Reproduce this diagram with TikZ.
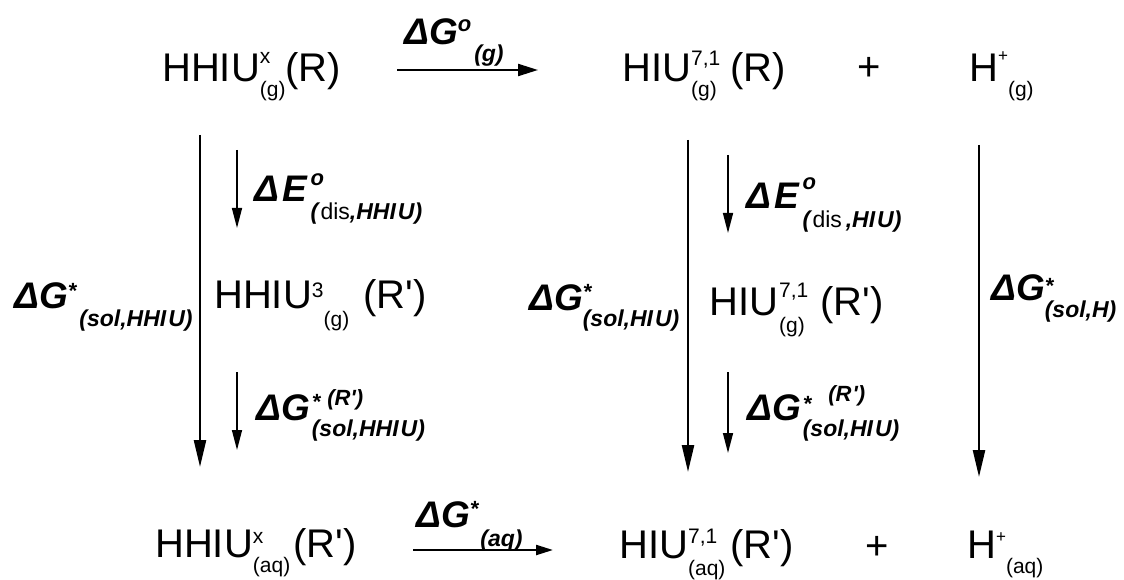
\documentclass[tikz,border=0pt]{standalone}
\usepackage{fontspec}
\setmainfont{Liberation Sans}
\usetikzlibrary{arrows.meta}
\newcommand\Mn{\fontsize{40}{44}\selectfont\mdseries\upshape}
\newcommand\Ms{\fontsize{21}{24}\selectfont\mdseries\upshape}
\newcommand\Mp{\fontsize{17}{18}\selectfont\mdseries\upshape}
\newcommand\Lb{\fontsize{37}{40}\selectfont\bfseries\itshape}
\newcommand\Ls{\fontsize{23}{26}\selectfont\bfseries\itshape}
\newcommand\Lo{\fontsize{22}{24}\selectfont\bfseries\itshape}
\newcommand\Rd{\textup{\mdseries dis}}
\newcommand\Qt{\textquotesingle}
\newcommand\SupSubStk[4]{{\setbox0=\hbox{#2}\setbox2=\hbox{#4}%
 \dimen0=\wd0 \ifdim\wd2>\dimen0 \dimen0=\wd2 \fi
 \hbox to\dimen0{\rlap{\raise#1\box0}\lower#3\box2\hfil}}}
\tikzset{
  txt/.style={inner sep=0pt, anchor=base west},
  plus/.style={inner sep=0pt, anchor=base},
  hor/.style={line width=2.2pt, -{Triangle[length=20pt,width=12pt]}},
  horb/.style={line width=2.2pt, -{Triangle[length=17pt,width=10pt]}},
  small/.style={line width=1.5pt, -{Triangle[length=20pt,width=10pt]}},
  longthin/.style={line width=1.3pt},
  longthick/.style={line width=2.4pt, -{Triangle[length=27pt,width=12pt]}},
}
\begin{document}
\begin{tikzpicture}[x=1pt,y=-1pt]
\useasboundingbox (0,0) rectangle (1124,580);
% species
\node[txt] (hhiuG) at (162,82) {\Mn HHIU\SupSubStk{18pt}{\Ms x}{14.5pt}{\Ms (g)}(R)};
\node[txt] (hiuG) at (622,82) {\Mn HIU\SupSubStk{16pt}{\Ms 7,1}{14.5pt}{\Ms (g)}\hspace{10pt}(R)};
\node[plus] (plusG) at (869,81) {\Mn +};
\node[txt] (hG) at (969,82) {\Mn H\raisebox{20pt}{\Mp +}\kern0pt\raisebox{-15pt}{\Ms (g)}};
\node[txt] (hhiu3) at (214,308) {\Mn HHIU\raisebox{11pt}{\Ms 3}\raisebox{-18.5pt}{\Ms (g)}\hspace{14pt}(R\Qt)};
\node[txt] (hiuM) at (709,315) {\Mn HIU\kern1pt\SupSubStk{18pt}{\Ms 7,1}{17pt}{\Ms (g)}\hspace{12pt}(R\Qt)};
\node[txt] (hhiuAq) at (155,557) {\Mn HHIU\SupSubStk{14pt}{\Ms x}{15pt}{\Ms (aq)}\kern3pt(R\Qt)};
\node[txt] (hiuAq) at (619,558) {\Mn HIU\SupSubStk{15pt}{\Ms 7,1}{17.5pt}{\Ms (aq)}\kern5pt(R\Qt)};
\node[plus] (plusAq) at (877,559) {\Mn +};
\node[txt] (hAq) at (967,558) {\Mn H\raisebox{16pt}{\Mp +}\kern0pt\raisebox{-15pt}{\Ms (aq)}};
% labels
\node[txt] (dG) at (404,45) {\Lb ΔG\raisebox{13pt}{\Lo o}\kern3pt\raisebox{-17pt}{\Ls (g)}};
\node[txt] (dEl) at (254,202) {\Lb Δ\kern3pt E\kern4pt\SupSubStk{17pt}{\Lo o}{17.5pt}{\Ls (\Rd,HHI\kern2pt U)}};
\node[txt] (dGsl) at (14,308) {\Lb ΔG\raisebox{10pt}{\Lo *}\kern3pt\raisebox{-18pt}{\Ls (sol,HHI\kern2pt U)}};
\node[txt] (dGrl) at (256,420) {\Lb ΔG\kern2pt\SupSubStk{11pt}{\Lo *\kern7pt\raisebox{4pt}{(R\Qt)}}{16pt}{\Ls (sol,HHI\kern2pt U)}};
\node[txt] (dEr) at (746,208) {\Lb Δ\kern3pt E\kern4pt\SupSubStk{19pt}{\Lo o}{20pt}{\Ls (\Rd\,,HI\kern2pt U)}};
\node[txt] (dGsm) at (529,310) {\Lb ΔG\SupSubStk{11pt}{\Lo *}{16pt}{\Ls (sol,HI\kern2pt U)}};
\node[txt] (dGrm) at (747,420) {\Lb ΔG\kern2pt\SupSubStk{9pt}{\Lo *\kern17pt\raisebox{10pt}{(R\kern1pt\Qt)}}{16pt}{\Ls (sol,HI\kern2pt U)}};
\node[txt] (dGsh) at (991,300) {\Lb ΔG\SupSubStk{7pt}{\Lo *}{17.5pt}{\Ls (sol,H)}};
\node[txt] (dGaq) at (416,527) {\Lb ΔG\raisebox{11pt}{\Lo *}\kern2pt\raisebox{-19pt}{\Ls (aq)}};
% arrow end points
\coordinate (t1) at (397,70); \coordinate (t2) at (538,70);
\coordinate (b1) at (413,550); \coordinate (b2) at (553,550);
\coordinate (l1) at (200,135); \coordinate (lm) at (200,292); \coordinate (l2) at (200,467);
\coordinate (ls1) at (237,150); \coordinate (ls2) at (237,228);
\coordinate (ls3) at (237,372); \coordinate (ls4) at (237,450);
\coordinate (m1) at (688,140); \coordinate (mm) at (688,297); \coordinate (m2) at (688,472);
\coordinate (ms1) at (728,155); \coordinate (ms2) at (728,233);
\coordinate (ms3) at (728,372); \coordinate (ms4) at (728,453);
\coordinate (r1) at (979,145); \coordinate (rm) at (979,302); \coordinate (r2) at (979,477);
% arrows
\draw[hor] (t1) -- (t2);
\draw[horb] (b1) -- (b2);
\draw[longthin] (l1) -- (lm); \draw[longthick] (lm) -- (l2);
\draw[small] (ls1) -- (ls2);
\draw[small] (ls3) -- (ls4);
\draw[longthin] (m1) -- (mm); \draw[longthick] (mm) -- (m2);
\draw[small] (ms1) -- (ms2);
\draw[small] (ms3) -- (ms4);
\draw[longthin] (r1) -- (rm); \draw[longthick] (rm) -- (r2);
\end{tikzpicture}
\end{document}
